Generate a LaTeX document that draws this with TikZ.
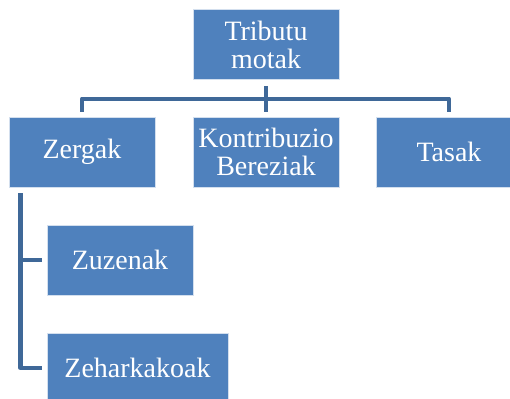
\documentclass[tikz,border=0pt]{standalone}
\usepackage{fontspec}
\setmainfont{Liberation Serif}
\usetikzlibrary{calc}
\definecolor{boxblue}{HTML}{4F81BD}
\definecolor{lineblue}{HTML}{3F6898}
\begin{document}
\begin{tikzpicture}[x=1pt,y=-1pt,
  tbox/.style={fill=boxblue,draw=white!75!boxblue,line width=0.6pt,text=white,
    minimum width=146pt,minimum height=70pt,inner sep=0pt,align=center,
    font=\fontsize{28}{28}\selectfont},
  conn/.style={draw=lineblue,line width=4.5pt}]
\useasboundingbox (0,0) rectangle (510,398);
\clip (0,0) rectangle (510,398);
\node[tbox] (top) at (266,44.5) {Tributu\\motak};
\node[tbox] (zergak) at (82,152) {Zergak};
\node[tbox] (kontri) at (266,152) {Kontribuzio\\Bereziak};
\node[tbox] (tasak) at (449,152) {Tasak};
\node[tbox] (zuzen) at (120,260) {Zuzenak};
\node[tbox,minimum width=181pt] (zehar) at (137.5,368) {Zeharkakoak};
\coordinate (hy) at ($(top.south)+(0,19)$);
\draw[conn,shorten <=6pt,shorten >=5pt] (top.south) -- (kontri.north);
\draw[conn,line join=round] ($(zergak.north)+(0,-5)$) -- (zergak.north |- hy) -- (tasak.north |- hy) -- ($(tasak.north)+(0,-5)$);
\coordinate (vx) at ($(zuzen.west)+(-26,0)$);
\draw[conn,line join=round] ($(vx |- zergak.south)+(0,6)$) -- (vx |- zehar.west) -- ($(zehar.west)+(-5,0)$);
\draw[conn] (vx |- zuzen.west) -- ($(zuzen.west)+(-5,0)$);
\end{tikzpicture}
\end{document}
